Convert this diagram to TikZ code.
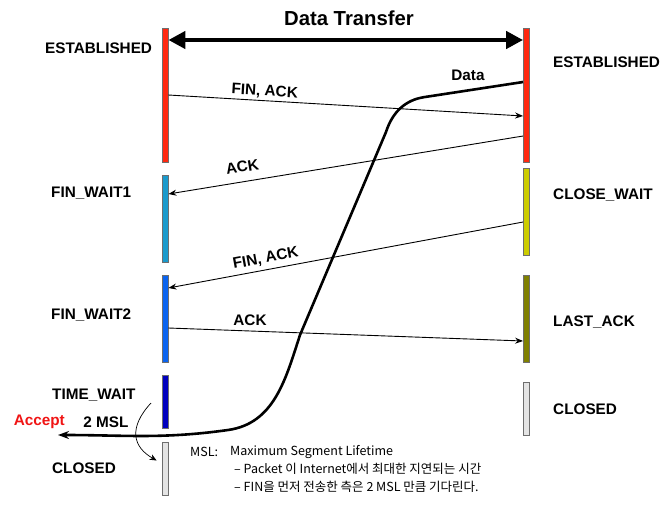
\documentclass[tikz,border=0pt]{standalone}
\usepackage{fontspec}
\setmainfont{Liberation Sans}
\newfontfamily\krfont{Noto Sans CJK KR}
\usetikzlibrary{arrows.meta,positioning}
\definecolor{cRed}{RGB}{255,40,16}
\definecolor{cCyan}{RGB}{26,154,204}
\definecolor{cBlue}{RGB}{10,100,240}
\definecolor{cNavy}{RGB}{0,0,190}
\definecolor{cYel}{RGB}{204,204,0}
\definecolor{cOlive}{RGB}{128,128,0}
\definecolor{cGrey}{RGB}{228,228,228}
\definecolor{cEdge}{RGB}{110,110,110}
\definecolor{cAcc}{RGB}{240,20,20}

\begin{document}
\begin{tikzpicture}[x=1pt,y=-1pt,
   bar/.style={draw=cEdge,line width=0.8pt,rectangle,minimum width=6pt,inner sep=0pt},
   st/.style={font=\fontsize{15.3}{18}\selectfont\bfseries,inner sep=0pt,anchor=west},
   lb/.style={font=\fontsize{15.3}{18}\selectfont\bfseries,inner sep=2pt},
   msg/.style={-{Stealth[length=8pt,width=6pt]},line width=0.9pt},
   dat/.style={-{Stealth[length=11pt,width=8pt]},line width=2.6pt},
   note/.style={font=\krfont\fontsize{12.5}{15}\selectfont,inner sep=0pt,anchor=west}]
  \useasboundingbox (0,0) rectangle (669,506);
  % left side
  \node[bar,fill=cRed,minimum height=134pt]  (estL) at (165,95)    {};
  \node[bar,fill=cCyan,minimum height=87pt]  (fw1)  at (165,218.5) {};
  \node[bar,fill=cBlue,minimum height=87pt]  (fw2)  at (165,318.5) {};
  \node[bar,fill=cNavy,minimum height=53pt]  (tw)   at (165,401.5) {};
  \node[bar,fill=cGrey,minimum height=53pt]  (clL)  at (165,468.5) {};
  % right side
  \node[bar,fill=cRed,minimum height=134pt]  (estR) at (526.5,95)    {};
  \node[bar,fill=cYel,minimum height=87pt]   (cw)   at (526.5,211.5) {};
  \node[bar,fill=cOlive,minimum height=87pt] (la)   at (526.5,318.5) {};
  \node[bar,fill=cGrey,minimum height=53pt]  (clR)  at (526.5,408.5) {};

  \node[st] (sEstL) at (45,48)  {ESTABLISHED};
  \node[st] (sFw1)  at (51,193) {FIN\_WAIT1};
  \node[st] (sFw2)  at (51,315) {FIN\_WAIT2};
  \node[st] (sTw)   at (52,395) {TIME\_WAIT};
  \node[st] (sClL)  at (52,468) {CLOSED};
  \node[st] (sEstR) at (553,62)  {ESTABLISHED};
  \node[st] (sCw)   at (553,195) {CLOSE\_WAIT};
  \node[st] (sLa)   at (553,322) {LAST\_ACK};
  \node[st] (sClR)  at (553,409) {CLOSED};

  % data transfer
  \node[font=\fontsize{20.3}{24}\selectfont\bfseries] (dt) at (349,18) {Data Transfer};
  \draw[{Triangle[length=17pt,width=17pt]}-{Triangle[length=17pt,width=17pt]},line width=4.5pt]
        ([yshift=55pt]estL.east) -- ([yshift=55pt]estR.west);

  % segments
  \draw[msg] (estL.east) -- ([yshift=-21pt]estR.west)
        node[lb,pos=0.27,above,sloped] {FIN, ACK};
  \draw[msg] ([yshift=-41pt]estR.west) -- ([yshift=24.5pt]fw1.east)
        node[lb,pos=0.785,above=7pt,sloped] {ACK};
  \draw[msg] ([yshift=-10.5pt]cw.west) -- ([yshift=30.5pt]fw2.east)
        node[lb,pos=0.72,above=2pt,sloped] {FIN, ACK};
  \draw[msg] ([yshift=-9.5pt]fw2.east) -- ([yshift=-22.5pt]la.west)
        node[lb,pos=0.23,above=3pt] {ACK};

  % late data
  \coordinate (acc) at (58,435);
  \draw[dat] ([yshift=13pt]estR.west) -- (425,97) to[out=188,in=72] (386,132)
        -- (300,335) to[out=252,in=8] (228,430) to[out=188,in=0] (acc);
  \node[lb] (dLab) at (468,75) {Data};
  \node[lb,text=cAcc,anchor=east,inner sep=0pt] (acLab) at (65,422) {Accept};
  \node[lb,inner sep=0pt] (msl2) at (106,422) {2 MSL};
  \coordinate (twa) at (151,403);
  \draw[-{Stealth[length=7pt,width=6pt]},line width=0.7pt] (twa) .. controls (128,428) and (133,447) .. ([xshift=-5pt,yshift=8pt]clL.west);

  % note
  \node[note] (msl)  at (190,452) {MSL:};
  \node[note] (mslT) at (230,452) {Maximum Segment Lifetime};
  \node[note] (nt1)  at (234,469) {– Packet 이 Internet에서 최대한 지연되는 시간};
  \node[note] (nt2)  at (234,487) {– FIN을 먼저 전송한 측은 2 MSL 만큼 기다린다.};
\end{tikzpicture}
\end{document}
